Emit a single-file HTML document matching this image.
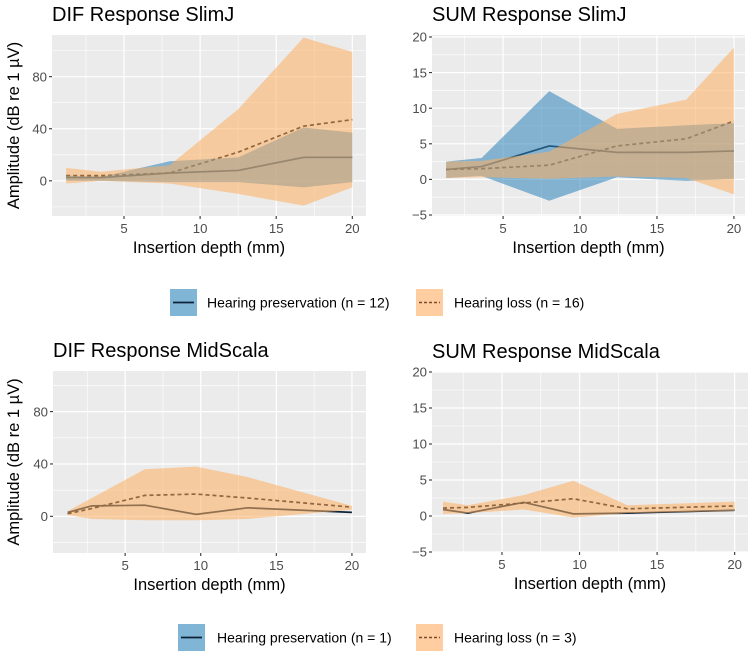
<!DOCTYPE html>
<html><head><meta charset="utf-8">
<style>
body{margin:0;background:#fff;width:750px;height:654px;overflow:hidden;font-family:"Liberation Sans",sans-serif;}
svg text{font-family:"Liberation Sans",sans-serif;}
</style></head>
<body>
<svg id="chart" width="750" height="654" xmlns="http://www.w3.org/2000/svg"></svg>
<script>
// ---- data ----
// DIF SlimJ
const difSlimX = [1.2, 3.5, 8, 12.5, 16.8, 20];
const difSlimHpMean = [2.5, 2.5, 6, 8, 18, 18];
const difSlimHpUpper = [4, 3, 15, 18, 41, 37];
const difSlimHpLower = [0, 0, -1, -1, -5, -1];
const difSlimHlMean = [4, 4, 6, 22, 42, 47];
const difSlimHlUpper = [10, 7, 12, 55, 110, 99];
const difSlimHlLower = [-2, 0, -2, -10, -19, -5];
// SUM SlimJ
const sumSlimX = [1.3, 3.6, 8, 12.4, 16.9, 20];
const sumSlimHpMean = [1.4, 1.8, 4.7, 3.8, 3.8, 4.0];
const sumSlimHpUpper = [2.5, 3.0, 12.4, 7.1, 7.6, 7.9];
const sumSlimHpLower = [0.2, 0.5, -3.0, 0.3, -0.2, 0.1];
const sumSlimHlMean = [1.4, 1.5, 2.0, 4.7, 5.7, 8.2];
const sumSlimHlUpper = [2.5, 2.6, 3.9, 9.2, 11.2, 18.5];
const sumSlimHlLower = [0.2, 0.3, 0.1, 0.4, 0.2, -2.1];
// DIF MidScala
const difMidX = [1.2, 2.8, 6.3, 9.7, 13.1, 20];
const difMidHpMean = [3, 8, 8.5, 1.5, 6.5, 3];
const difMidHlMean = [2, 6, 16, 17, 14, 7];
const difMidHlUpper = [4, 14, 36, 38, 30, 8];
const difMidHlLower = [1, -2, -3, -3, -2, 5];
// SUM MidScala
const sumMidX = [1.2, 2.8, 6.4, 9.6, 13.1, 20];
const sumMidHpMean = [0.9, 0.4, 1.9, 0.3, 0.4, 0.8];
const sumMidHlMean = [1.1, 1.2, 1.8, 2.4, 1.0, 1.4];
const sumMidHlUpper = [2.0, 1.5, 2.9, 4.9, 1.5, 2.0];
const sumMidHlLower = [0.3, 0.4, 0.9, -0.2, 0.4, 0.7];
// ticks
const xTicks = [5, 10, 15, 20];
const difTicks = [0, 40, 80];
const sumTicks = [-5, 0, 5, 10, 15, 20];

const NS = "http://www.w3.org/2000/svg";
const svg = document.getElementById("chart");
function el(tag, attrs, parent) {
  const e = document.createElementNS(NS, tag);
  for (const k in attrs) e.setAttribute(k, attrs[k]);
  (parent || svg).appendChild(e);
  return e;
}
const BLUE = "#2b83ba", ORANGE = "#fdae61";

function panel(cfg) {
  const g = el("g", {});
  
  
  const {L, R, T, B, xmin, xmax, ymin, ymax} = cfg;
  const sx = v => L + (v - xmin) / (xmax - xmin) * (R - L);
  const sy = v => B - (v - ymin) / (ymax - ymin) * (B - T);
  const bg = el("rect", {x: L, y: T, width: R - L, height: B - T, fill: "#ebebeb"}, g);
  
  
  const yt = cfg.yTicks, step = yt[1] - yt[0];
  for (let v = yt[0] - step / 2; v <= ymax; v += step) {
    if (v < ymin) continue;
    el("line", {x1: L, x2: R, y1: sy(v), y2: sy(v), stroke: "#fff", "stroke-width": 0.6}, g);
  }
  for (let v = 2.5; v <= xmax; v += 5) {
    el("line", {x1: sx(v), x2: sx(v), y1: T, y2: B, stroke: "#fff", "stroke-width": 0.6}, g);
  }
  yt.forEach(v => {
    el("line", {x1: L, x2: R, y1: sy(v), y2: sy(v), stroke: "#fff", "stroke-width": 1.2}, g);
    el("line", {x1: L - 3, x2: L, y1: sy(v), y2: sy(v), stroke: "#333", "stroke-width": 1.1}, g);
    const t = el("text", {x: L - 5, y: sy(v) + 4.7, "text-anchor": "end", "font-size": 13.2, fill: "#4d4d4d"}, g);
    t.textContent = v === -5 ? "\u22125" : v;
    
    
  });
  xTicks.forEach(v => {
    el("line", {x1: sx(v), x2: sx(v), y1: T, y2: B, stroke: "#fff", "stroke-width": 1.2}, g);
    el("line", {x1: sx(v), x2: sx(v), y1: B, y2: B + 3, stroke: "#333", "stroke-width": 1.1}, g);
    const t = el("text", {x: sx(v), y: B + 17, "text-anchor": "middle", "font-size": 13.2, fill: "#4d4d4d"}, g);
    t.textContent = v;
    
    
  });
  const clipId = "clip-" + cfg.name;
  const cp = el("clipPath", {id: clipId}, g);
  el("rect", {x: L, y: T, width: R - L, height: B - T}, cp);
  const pg = el("g", {"clip-path": "url(#" + clipId + ")"}, g);
  const pts = (xs, ys) => xs.map((x, i) => sx(x) + "," + sy(ys[i])).join(" ");
  const hp = el("polyline", {points: pts(cfg.x, cfg.hpMean), fill: "none", stroke: "#0d2238", "stroke-width": 1.7}, pg);
  
  
  const hl = el("polyline", {points: pts(cfg.x, cfg.hlMean), fill: "none", stroke: "#111", "stroke-width": 1.7, "stroke-dasharray": "4,3"}, pg);
  
  
  const ribbon = (up, lo, color) => {
    const p = cfg.x.map((x, i) => sx(x) + "," + sy(up[i]));
    for (let i = cfg.x.length - 1; i >= 0; i--) p.push(sx(cfg.x[i]) + "," + sy(lo[i]));
    return el("polygon", {points: p.join(" "), fill: color, "fill-opacity": 0.55}, pg);
  };
  if (cfg.hpUpper) {
    const r = ribbon(cfg.hpUpper, cfg.hpLower, BLUE);
    
    
  }
  const r2 = ribbon(cfg.hlUpper, cfg.hlLower, ORANGE);
  
  
  const tt = el("text", {x: L, y: T - 14, "font-size": 20, fill: "#000"}, g);
  tt.textContent = cfg.title;
  
  
  const xt = el("text", {x: (L + R) / 2, y: B + 37, "text-anchor": "middle", "font-size": 16.5, fill: "#000"}, g);
  xt.textContent = "Insertion depth (mm)";
  
  
  if (cfg.yTitle) {
    const cy = (T + B) / 2;
    const yt2 = el("text", {x: 19, y: cy, "text-anchor": "middle", "font-size": 16.5, fill: "#000", transform: "rotate(-90 19 " + cy + ")"}, g);
    yt2.textContent = "Amplitude (dB re 1 \u00b5V)";
    
    
  }
}

panel({name: "dif-slimj-panel", title: "DIF Response SlimJ", L: 52, R: 366, T: 35, B: 216, xmin: 0.27, xmax: 20.9, ymin: -27, ymax: 112,
  yTicks: difTicks, yTitle: true, x: difSlimX, hpMean: difSlimHpMean, hpUpper: difSlimHpUpper, hpLower: difSlimHpLower,
  hlMean: difSlimHlMean, hlUpper: difSlimHlUpper, hlLower: difSlimHlLower});
panel({name: "sum-slimj-panel", title: "SUM Response SlimJ", L: 432, R: 745, T: 35, B: 216, xmin: 0.38, xmax: 20.72, ymin: -5.14, ymax: 20.28,
  yTicks: sumTicks, x: sumSlimX, hpMean: sumSlimHpMean, hpUpper: sumSlimHpUpper, hpLower: sumSlimHpLower,
  hlMean: sumSlimHlMean, hlUpper: sumSlimHlUpper, hlLower: sumSlimHlLower});
panel({name: "dif-midscala-panel", title: "DIF Response MidScala", L: 53, R: 366, T: 371, B: 553, xmin: 0.23, xmax: 20.93, ymin: -28, ymax: 111,
  yTicks: difTicks, yTitle: true, x: difMidX, hpMean: difMidHpMean,
  hlMean: difMidHlMean, hlUpper: difMidHlUpper, hlLower: difMidHlLower});
panel({name: "sum-midscala-panel", title: "SUM Response MidScala", L: 432, R: 748, T: 372, B: 552, xmin: 0.49, xmax: 20.86, ymin: -5, ymax: 20,
  yTicks: sumTicks, x: sumMidX, hpMean: sumMidHpMean,
  hlMean: sumMidHlMean, hlUpper: sumMidHlUpper, hlLower: sumMidHlLower});

function legend(y, x1, tx1, label1, x2, tx2, label2, name) {
  const g = el("g", {});
  
  
  el("rect", {x: x1, y: y, width: 27, height: 27, fill: BLUE, "fill-opacity": 0.6}, g);
  el("line", {x1: x1 + 3, x2: x1 + 24, y1: y + 13.5, y2: y + 13.5, stroke: "#0d2238", "stroke-width": 1.7}, g);
  const t1 = el("text", {x: tx1, y: y + 18.5, "font-size": 14, fill: "#000"}, g);
  t1.textContent = label1;
  
  
  el("rect", {x: x2, y: y, width: 27, height: 27, fill: ORANGE, "fill-opacity": 0.6}, g);
  el("line", {x1: x2 + 3, x2: x2 + 24, y1: y + 13.5, y2: y + 13.5, stroke: "#7a4a2a", "stroke-width": 1.6, "stroke-dasharray": "3,2"}, g);
  const t2 = el("text", {x: tx2, y: y + 18.5, "font-size": 14, fill: "#000"}, g);
  t2.textContent = label2;
  
  
}
legend(289, 170, 207, "Hearing preservation (n = 12)", 416, 454, "Hearing loss (n = 16)", "legend-slimj");
legend(624, 178, 217, "Hearing preservation (n = 1)", 416, 454, "Hearing loss (n = 3)", "legend-midscala");
</script>
</body></html>
